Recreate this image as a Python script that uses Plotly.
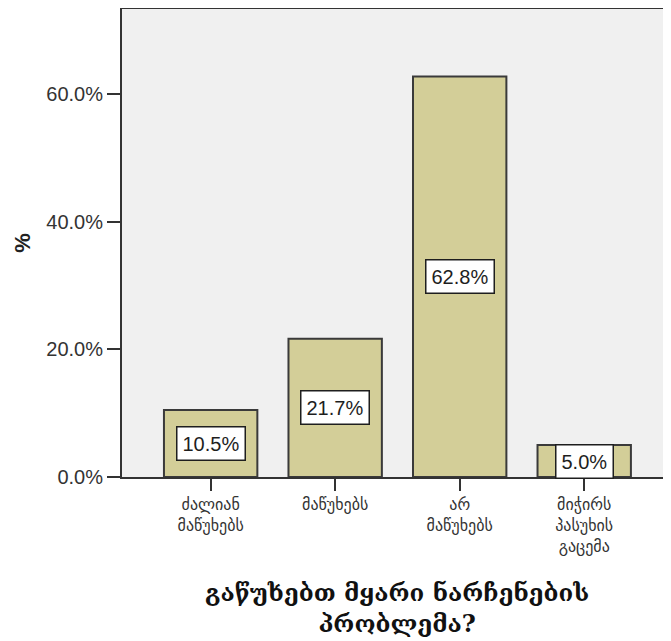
import plotly.graph_objects as go

categories = ["ძალიან<br>მაწუხებს", "მაწუხებს", "არ<br>მაწუხებს", "მიჭირს<br>პასუხის<br>გაცემა"]
values = [10.5, 21.7, 62.8, 5.0]
value_labels = ["10.5%", "21.7%", "62.8%", "5.0%"]
y_ticks = [0, 20, 40, 60]
y_tick_labels = ["0.0%", "20.0%", "40.0%", "60.0%"]
x_title_lines = ["გაწუხებთ მყარი ნარჩენების", "პრობლემა?"]
y_title = "%"

xpos = list(range(len(categories)))

fig = go.Figure()
fig.add_trace(go.Bar(
    x=xpos, y=values, width=0.75,
    marker=dict(color="#D3CE98", line=dict(color="#3A3A3A", width=2)),
    hoverinfo="skip",
))

for xi, v, lab in zip(xpos, values, value_labels):
    fig.add_annotation(
        x=xi, y=v / 2, text=lab, showarrow=False,
        font=dict(family="Liberation Sans, Arial", size=20, color="#1E1E1E"),
        bgcolor="white", bordercolor="#1E1E1E", borderwidth=1.5, borderpad=5,
    )

fig.add_annotation(
    xref="paper", yref="paper", x=0.5, y=0, yanchor="middle", xanchor="center",
    yshift=-131, text="<br>".join("<b>" + s + "</b>" for s in x_title_lines),
    showarrow=False, align="center",
    font=dict(family="DejaVu Serif", size=24, color="#111111"),
)

fig.update_layout(
    width=663, height=633,
    margin=dict(l=114, r=0, t=1, b=164),
    paper_bgcolor="white", plot_bgcolor="#F0F0F0",
    showlegend=False,
)
fig.update_xaxes(
    range=[-0.712, 3.697],
    tickmode="array", tickvals=xpos, ticktext=categories,
    ticks="outside", ticklen=12, tickcolor="#333333", tickwidth=2,
    showline=True, linecolor="#333333", linewidth=2, mirror=True,
    showgrid=False, zeroline=False,
    tickfont=dict(family="DejaVu Sans", size=16, color="#333333"),
)
fig.update_yaxes(
    range=[0, 73.4],
    tickmode="array", tickvals=y_ticks, ticktext=y_tick_labels,
    ticks="outside", ticklen=13, tickcolor="#333333", tickwidth=2,
    showline=True, linecolor="#333333", linewidth=2, mirror=False,
    showgrid=False, zeroline=False,
    tickfont=dict(family="Liberation Sans, Arial", size=20, color="#333333"),
    title=dict(text="<b>" + y_title + "</b>", font=dict(family="Liberation Sans, Arial", size=22, color="#222222"), standoff=10),
)

fig.write_html("out.html")
